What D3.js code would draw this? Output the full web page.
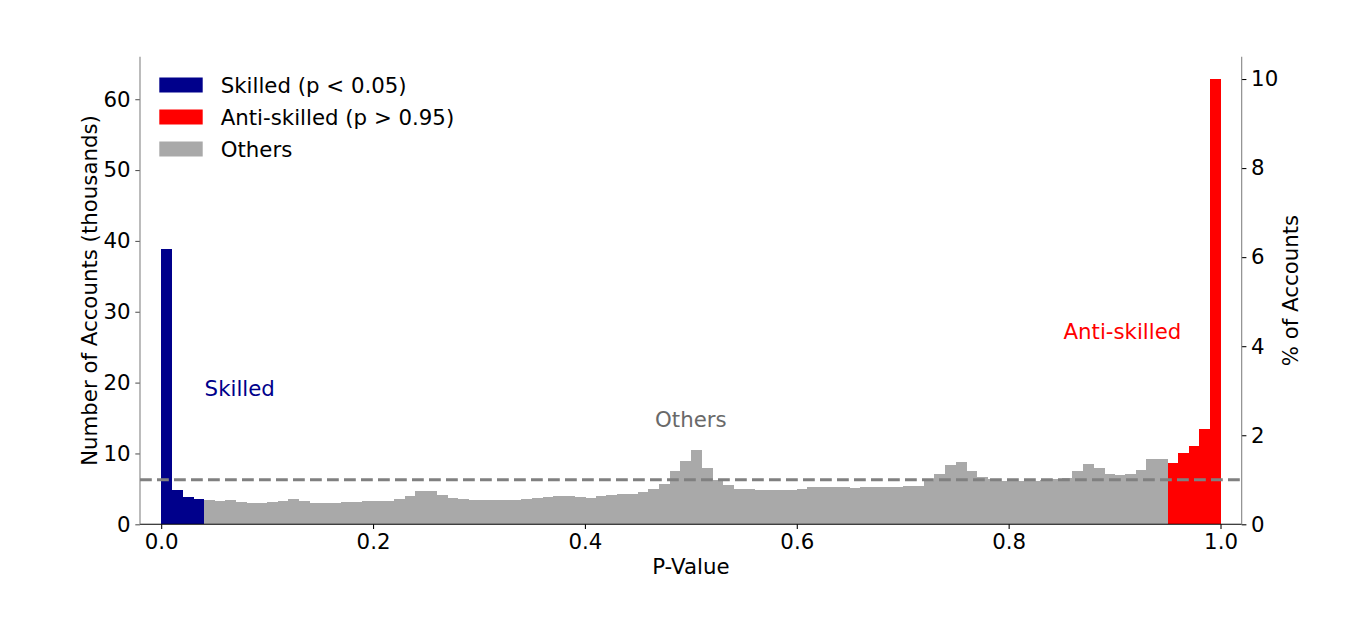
<!DOCTYPE html>
<html>
<head>
<meta charset="utf-8">
<script src="https://cdn.jsdelivr.net/npm/d3@7"></script>
<style>
  html, body { margin: 0; padding: 0; background: #fff; }
  svg { display: block; font-family: "DejaVu Sans", sans-serif; }
</style>
</head>
<body>
<div id="chart"></div>
<script>
// Histogram of p-values, 100 bins of width 0.01 (counts in thousands)
const binWidth = 0.01;
const counts = [
  38.8, 4.8, 3.9, 3.6, 3.4, 3.35, 3.45, 3.1, 3.05, 3.05,
  3.2, 3.35, 3.55, 3.25, 3.05, 3.05, 3.05, 3.1, 3.15, 3.25,
  3.25, 3.3, 3.55, 3.95, 4.7, 4.7, 4.1, 3.75, 3.55, 3.45,
  3.45, 3.45, 3.45, 3.4, 3.6, 3.7, 3.8, 3.95, 3.95, 3.8,
  3.75, 3.95, 4.1, 4.3, 4.3, 4.5, 5.0, 5.75, 7.5, 9.0,
  10.45, 8.0, 6.3, 5.5, 5.05, 4.95, 4.9, 4.85, 4.8, 4.9,
  5.05, 5.2, 5.25, 5.2, 5.2, 5.1, 5.2, 5.2, 5.25, 5.3,
  5.35, 5.45, 6.1, 7.05, 8.4, 8.85, 7.5, 6.65, 6.4, 6.05,
  6.05, 6.1, 6.05, 6.2, 6.4, 6.6, 7.5, 8.5, 7.95, 7.15,
  6.9, 7.15, 7.7, 9.2, 9.2, 8.7, 10.0, 11.0, 13.4, 62.8
];
const totalAccounts = 628.5;     // thousands, sets the % axis
const skilledEnd = 0.04;         // bins starting below this are "Skilled"
const antiStart = 0.95;          // bins starting at/above this are "Anti-skilled"
const xTicks = [0.0, 0.2, 0.4, 0.6, 0.8, 1.0];
const yTicks = [0, 10, 20, 30, 40, 50, 60];
const pctTicks = [0, 2, 4, 6, 8, 10];

const groups = ["Skilled (p < 0.05)", "Anti-skilled (p > 0.95)", "Others"];
const groupColors = ["#00008b", "#ff0000", "#a9a9a9"];

const annotations = [
  { text: "Skilled", x: 0.041, y: 18.1, anchor: "start", color: "#00008b" },
  { text: "Others", x: 0.5, y: 13.7, anchor: "middle", color: "#696969" },
  { text: "Anti-skilled", x: 0.963, y: 26.1, anchor: "end", color: "#ff0000" }
];

const W = 1372, H = 620;
const margin = { top: 56.7, right: 130.3, bottom: 95.7, left: 140 };
const fontSize = 21.3;

const svg = d3.select("#chart").append("svg").attr("width", W).attr("height", H);

const x = d3.scaleLinear().domain([-0.02, 1.02]).range([margin.left, W - margin.right]);
const yMax = 66;
const y = d3.scaleLinear().domain([0, yMax]).range([H - margin.bottom, margin.top]);
const yPct = d3.scaleLinear().domain([0, yMax / totalAccounts * 100]).range([H - margin.bottom, margin.top]);

const bins = counts.map((c, i) => {
  const x0 = i * binWidth;
  const g = x0 < skilledEnd - 1e-9 ? 0 : (x0 >= antiStart - 1e-9 ? 1 : 2);
  return { x0: x0, x1: x0 + binWidth, value: c, group: g };
});

// Bars (slight overlap + crisp edges so no seams show between bins)
svg.append("g")
  .attr("shape-rendering", "crispEdges")
  .selectAll("rect")
  .data(bins)
  .join("rect")
  .attr("x", (d) => x(d.x0))
  .attr("width", (d) => x(d.x1) - x(d.x0) + 0.6)
  .attr("y", (d) => y(d.value))
  .attr("height", (d) => y(0) - y(d.value))
  .attr("fill", (d) => groupColors[d.group]);

// Expected uniform level (1% of accounts)
svg.append("line")
  .attr("x1", margin.left)
  .attr("x2", W - margin.right)
  .attr("y1", y(totalAccounts * 0.01))
  .attr("y2", y(totalAccounts * 0.01))
  .attr("stroke", "#808080")
  .attr("stroke-width", 3.2)
  .attr("stroke-dasharray", "11.8,5.2");

// Axes
const tickLen = 4.7, tickPad = 4.7;

const xAxis = svg.append("g")
  .attr("transform", `translate(0,${H - margin.bottom})`)
  .call(d3.axisBottom(x).tickValues(xTicks).tickFormat(d3.format(".1f")).tickSize(tickLen).tickPadding(tickPad));
xAxis.select(".domain").remove();

const yAxis = svg.append("g")
  .attr("transform", `translate(${margin.left},0)`)
  .call(d3.axisLeft(y).tickValues(yTicks).tickSize(tickLen).tickPadding(tickPad));
yAxis.select(".domain").remove();

const pAxis = svg.append("g")
  .attr("transform", `translate(${W - margin.right},0)`)
  .call(d3.axisRight(yPct).tickValues(pctTicks).tickSize(tickLen).tickPadding(tickPad));
pAxis.select(".domain").remove();

svg.selectAll(".tick text").attr("font-size", fontSize).attr("font-family", "DejaVu Sans").attr("fill", "#000");
svg.selectAll(".tick line").attr("stroke", "#000").attr("stroke-width", 1.07);
yAxis.selectAll(".tick line").attr("stroke", "#555");

// Spines
svg.append("line")
  .attr("x1", margin.left).attr("x2", W - margin.right)
  .attr("y1", H - margin.bottom).attr("y2", H - margin.bottom)
  .attr("stroke", "#000").attr("stroke-width", 1.07);
[margin.left, W - margin.right].forEach((sx) => {
  svg.append("line")
    .attr("x1", sx).attr("x2", sx)
    .attr("y1", margin.top).attr("y2", H - margin.bottom)
    .attr("stroke", "#808080").attr("stroke-width", 1.07);
});

// Axis labels
svg.append("text")
  .attr("x", (margin.left + W - margin.right) / 2)
  .attr("y", 574)
  .attr("text-anchor", "middle")
  .attr("font-size", fontSize)
  .text("P-Value");

const midY = (margin.top + H - margin.bottom) / 2;
svg.append("text")
  .attr("transform", `translate(97,${midY}) rotate(-90)`)
  .attr("text-anchor", "middle")
  .attr("font-size", fontSize)
  .text("Number of Accounts (thousands)");

svg.append("text")
  .attr("transform", `translate(1298,${midY}) rotate(-90)`)
  .attr("text-anchor", "middle")
  .attr("font-size", fontSize)
  .text("% of Accounts");

// Annotations
svg.append("g")
  .selectAll("text")
  .data(annotations)
  .join("text")
  .attr("x", (d) => x(d.x))
  .attr("y", (d) => y(d.y))
  .attr("text-anchor", (d) => d.anchor)
  .attr("fill", (d) => d.color)
  .attr("font-size", fontSize)
  .text((d) => d.text);

// Legend
const legend = svg.append("g").attr("transform", "translate(159.3,85)");
const rowH = 32;
groups.forEach((g, i) => {
  const row = legend.append("g").attr("transform", `translate(0,${i * rowH})`);
  row.append("rect")
    .attr("x", 0).attr("y", -7.5)
    .attr("width", 43.4).attr("height", 15)
    .attr("fill", groupColors[i]);
  row.append("text")
    .attr("x", 61.4)
    .attr("y", 7.8)
    .attr("font-size", fontSize)
    .text(g);
});
</script>
</body>
</html>
